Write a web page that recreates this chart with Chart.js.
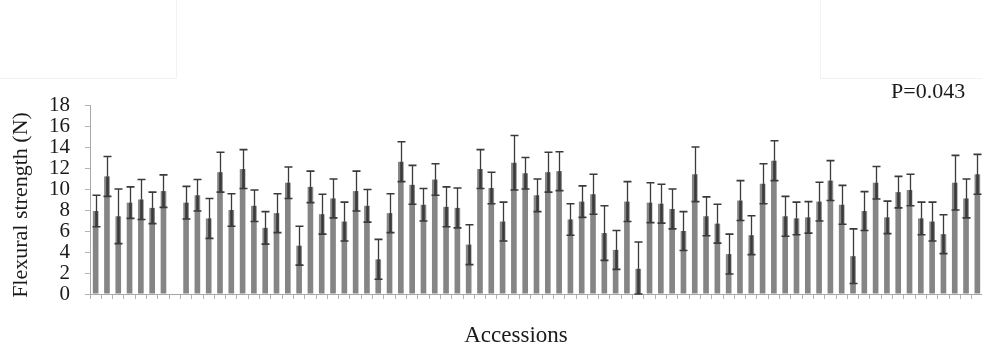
<!DOCTYPE html>
<html>
<head>
<meta charset="utf-8">
<script src="https://cdn.jsdelivr.net/npm/chart.js@4"></script>
<style>
  html, body { margin: 0; padding: 0; background: #fff; overflow: hidden; width: 982px; height: 347px; }
  canvas { display: block; }
</style>
</head>
<body>
<canvas id="chart" width="984" height="347"></canvas>
<script>
// Accession identifiers along the x axis (slot 8 has no measurement)
const accessions = Array.from({ length: 79 }, (_, i) => 'A' + String(i + 1).padStart(2, '0'));

// Mean flexural strength (N) per accession
const meanStrength = [
  7.9, 11.2, 7.4, 8.7, 9.0, 8.2, 9.8, null, 8.7, 9.4,
  7.2, 11.6, 8.0, 11.9, 8.4, 6.3, 7.7, 10.6, 4.6, 10.2,
  7.6, 9.1, 6.9, 9.8, 8.4, 3.3, 7.7, 12.6, 10.4, 8.5,
  10.9, 8.3, 8.2, 4.7, 11.9, 10.1, 6.9, 12.5, 11.5, 9.4,
  11.6, 11.7, 7.1, 8.8, 9.5, 5.8, 4.2, 8.8, 2.4, 8.7,
  8.6, 8.1, 6.0, 11.4, 7.4, 6.7, 3.8, 8.9, 5.6, 10.5,
  12.7, 7.4, 7.2, 7.3, 8.8, 10.8, 8.5, 3.6, 7.9, 10.6,
  7.3, 9.7, 9.9, 7.2, 6.9, 5.7, 10.6, 9.1, 11.4
];

// Standard deviation per accession
const sdStrength = [
  1.5, 1.9, 2.6, 1.5, 1.9, 1.5, 1.55, null, 1.55, 1.5,
  1.9, 1.9, 1.55, 1.85, 1.5, 1.55, 1.85, 1.5, 1.85, 1.5,
  1.9, 1.85, 1.85, 1.9, 1.55, 1.9, 1.85, 1.9, 1.85, 1.55,
  1.5, 1.9, 1.9, 1.9, 1.85, 1.5, 1.85, 2.6, 1.5, 1.55,
  1.9, 1.85, 1.5, 1.5, 1.9, 2.6, 1.85, 1.9, 2.55, 1.9,
  1.85, 1.9, 1.85, 2.6, 1.85, 1.85, 1.9, 1.9, 1.85, 1.9,
  1.9, 1.9, 1.55, 1.5, 1.85, 1.9, 1.85, 2.6, 1.85, 1.55,
  1.55, 1.5, 1.5, 1.55, 1.85, 1.85, 2.6, 1.85, 1.9
];

const yTickValues = [0, 2, 4, 6, 8, 10, 12, 14, 16, 18];

const yTitle = 'Flexural strength (N)';
const xTitle = 'Accessions';
const pLabel = 'P=0.043';

const SERIF = '"Liberation Serif", "Times New Roman", serif';

// Whiskers: dark band inside the bar below the mean, thin line above, caps at both ends
const errorBars = {
  id: 'errorBars',
  afterDatasetsDraw(chart) {
    const { ctx } = chart;
    const y = chart.scales.y;
    const meta = chart.getDatasetMeta(0);
    ctx.save();
    meta.data.forEach((bar, i) => {
      const m = meanStrength[i], sd = sdStrength[i];
      if (m == null || sd == null) return;
      const x = Math.round(bar.x) + 0.5;
      const yTop = y.getPixelForValue(m + sd);
      const yMid = y.getPixelForValue(m);
      const yLow = y.getPixelForValue(Math.max(0, m - sd));
      ctx.strokeStyle = '#3a3a3a';
      ctx.lineCap = 'butt';
      // upper whisker
      ctx.lineWidth = 1.3;
      ctx.beginPath();
      ctx.moveTo(x, yTop);
      ctx.lineTo(x, yMid);
      ctx.stroke();
      // lower whisker inside the bar
      ctx.lineWidth = 2.6;
      ctx.beginPath();
      ctx.moveTo(x, yMid);
      ctx.lineTo(x, yLow);
      ctx.stroke();
      // caps
      ctx.lineWidth = 1.6;
      ctx.beginPath();
      ctx.moveTo(x - 4, yTop);
      ctx.lineTo(x + 4, yTop);
      ctx.moveTo(x - 4, yLow);
      ctx.lineTo(x + 4, yLow);
      ctx.stroke();
    });
    ctx.restore();
  }
};

// Axis titles, the P value and the faint panel outlines above the plot
const annotations = {
  id: 'annotations',
  afterDraw(chart) {
    const { ctx } = chart;
    ctx.save();
    ctx.strokeStyle = '#f2f2f2';
    ctx.lineWidth = 1;
    ctx.beginPath();
    ctx.moveTo(176.5, 0); ctx.lineTo(176.5, 78.5); ctx.lineTo(0, 78.5);
    ctx.moveTo(820.5, 0); ctx.lineTo(820.5, 78.5); ctx.lineTo(982, 78.5);
    ctx.stroke();

    ctx.fillStyle = '#1a1a1a';
    ctx.font = '22px ' + SERIF;
    ctx.textAlign = 'center';
    ctx.textBaseline = 'middle';
    ctx.save();
    ctx.translate(21, 205);
    ctx.rotate(-Math.PI / 2);
    ctx.fillText(yTitle, 0, 0);
    ctx.restore();

    ctx.font = '23px ' + SERIF;
    ctx.fillText(xTitle, 516, 336);

    ctx.font = '22px ' + SERIF;
    ctx.textAlign = 'left';
    ctx.textBaseline = 'alphabetic';
    ctx.fillText(pLabel, 891, 98);
    ctx.restore();
  }
};

new Chart(document.getElementById('chart'), {
  type: 'bar',
  data: {
    labels: accessions,
    datasets: [{
      data: meanStrength,
      backgroundColor: '#858585',
      borderWidth: 0,
      barPercentage: 0.5,
      categoryPercentage: 1.0
    }]
  },
  options: {
    responsive: false,
    animation: false,
    devicePixelRatio: 1,
    layout: { padding: { top: 105, right: 1, left: 0, bottom: 0 } },
    plugins: {
      legend: { display: false },
      tooltip: { enabled: false },
      title: { display: false }
    },
    scales: {
      x: {
        offset: true,
        grid: {
          offset: true,
          drawOnChartArea: false,
          drawTicks: true,
          tickLength: 5,
          color: '#b4b4b4'
        },
        border: { display: true, color: '#a8a8a8', width: 1 },
        ticks: { display: false, autoSkip: false },
        afterFit(scale) { scale.height = 53; }
      },
      y: {
        min: 0,
        max: 18,
        afterBuildTicks(scale) { scale.ticks = yTickValues.map(v => ({ value: v })); },
        grid: {
          drawOnChartArea: false,
          drawTicks: true,
          tickLength: 5,
          color: '#b4b4b4'
        },
        border: { display: true, color: '#a8a8a8', width: 1 },
        ticks: {
          autoSkip: false,
          padding: 15,
          color: '#1a1a1a',
          font: { family: SERIF, size: 21, lineHeight: 1.0 }
        },
        afterFit(scale) { scale.width = 90; }
      }
    }
  },
  plugins: [errorBars, annotations]
});
</script>
</body>
</html>
